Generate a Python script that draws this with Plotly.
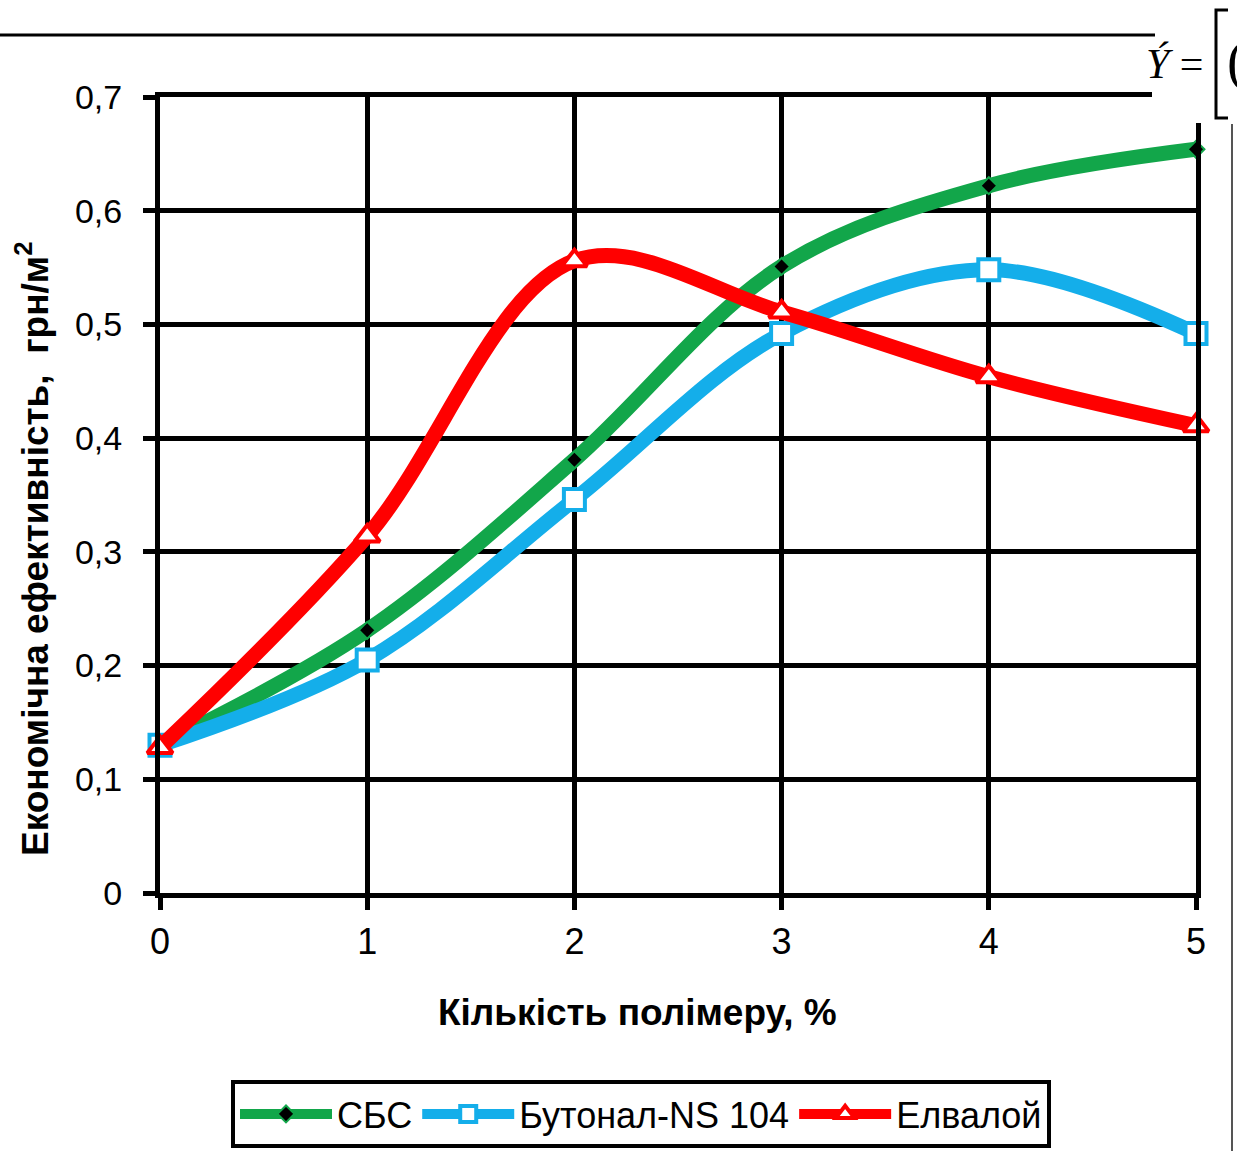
import plotly.graph_objects as go

# Кількість полімеру, %
polymer = [0, 1, 2, 3, 4, 5]

# Економічна ефективність, грн/м2
sbs = [0.130, 0.231, 0.381, 0.551, 0.622, 0.654]
butonal = [0.130, 0.205, 0.346, 0.492, 0.548, 0.492]
elvaloy = [0.128, 0.314, 0.556, 0.511, 0.454, 0.411]

y_ticks = [0, 0.1, 0.2, 0.3, 0.4, 0.5, 0.6, 0.7]
y_tick_text = ["0", "0,1", "0,2", "0,3", "0,4", "0,5", "0,6", "0,7"]

GREEN = "#12A64A"
BLUE = "#14AEEA"
RED = "#FF0000"

# plot area in pixels
L, R, T, B = 160, 1196, 97, 893
W_PX, H_PX = R - L, B - T


def px(x):
    return (x - L) / W_PX


def py(y):
    return (B - y) / H_PX


fig = go.Figure()

fig.add_trace(go.Scatter(
    x=polymer, y=sbs, name="СБС", mode="lines+markers",
    line=dict(color=GREEN, width=15, shape="spline", smoothing=1),
    marker=dict(symbol="diamond", size=13, color="black", line=dict(color=GREEN, width=2)),
    cliponaxis=False,
))
fig.add_trace(go.Scatter(
    x=polymer, y=butonal, name="Бутонал-NS 104", mode="lines+markers",
    line=dict(color=BLUE, width=15, shape="spline", smoothing=1),
    marker=dict(symbol="square", size=21, color="white", line=dict(color=BLUE, width=4)),
    cliponaxis=False,
))
fig.add_trace(go.Scatter(
    x=polymer, y=elvaloy, name="Елвалой", mode="lines+markers",
    line=dict(color=RED, width=15, shape="spline", smoothing=1),
    marker=dict(symbol="triangle-up", size=22, color="white", line=dict(color=RED, width=4)),
    cliponaxis=False,
))

font_main = "Liberation Sans, Arial, sans-serif"

fig.update_layout(
    width=1237, height=1151,
    margin=dict(l=L, r=1237 - R, t=T, b=1151 - B, autoexpand=False),
    paper_bgcolor="white", plot_bgcolor="white",
    font=dict(family=font_main, color="black", size=34),
    showlegend=True,
    legend=dict(
        orientation="h", x=px(641), xanchor="center", y=py(1080), yanchor="top",
        bordercolor="black", borderwidth=4, bgcolor="white",
        font=dict(size=36, family=font_main), itemwidth=92,
        itemsizing="trace", tracegroupgap=0,
    ),
    xaxis=dict(
        range=[0, 5], tickvals=polymer, ticktext=[str(v) for v in polymer],
        showgrid=True, gridcolor="black", gridwidth=5,
        showline=True, linecolor="black", linewidth=5, mirror=True,
        ticks="outside", ticklen=12, tickwidth=5, tickcolor="black",
        zeroline=False, ticklabelstandoff=1, tickfont=dict(size=36),
        automargin=False,
    ),
    yaxis=dict(
        range=[0, 0.7], tickvals=y_ticks, ticktext=y_tick_text,
        showgrid=True, gridcolor="black", gridwidth=5,
        showline=True, linecolor="black", linewidth=5, mirror=True,
        ticks="outside", ticklen=12, tickwidth=5, tickcolor="black",
        zeroline=False, ticklabelstandoff=14, tickfont=dict(size=34),
        automargin=False,
    ),
)

# axis titles
fig.add_annotation(xref="paper", yref="paper", x=px(637), y=py(1012),
                   xanchor="center", yanchor="middle", showarrow=False,
                   text="<b>Кількість полімеру, %</b>", font=dict(size=37))
fig.add_annotation(xref="paper", yref="paper", x=px(32), y=py(549),
                   xanchor="center", yanchor="middle", showarrow=False, textangle=-90,
                   text="<b>Економічна ефективність,  грн/м<sup>2</sup></b>", font=dict(size=37))

# Page elements around the chart: rule line, formula fragment and side rule
fig.add_shape(type="rect", xref="paper", yref="paper",
              x0=px(1152), x1=px(1237), y0=py(123), y1=py(0),
              fillcolor="white", line=dict(width=0), layer="above")
fig.add_shape(type="line", xref="paper", yref="paper",
              x0=px(0), x1=px(1155), y0=py(35), y1=py(35),
              line=dict(color="black", width=3), layer="above")
fig.add_shape(type="line", xref="paper", yref="paper",
              x0=px(1232), x1=px(1232), y0=py(1151), y1=py(124),
              line=dict(color="#555555", width=2), layer="above")
# bracket
fig.add_shape(type="path", xref="paper", yref="paper",
              path=(f"M {px(1228)},{py(10)} L {px(1216)},{py(10)} "
                    f"L {px(1216)},{py(118)} L {px(1228)},{py(118)}"),
              line=dict(color="black", width=3), layer="above")
fig.add_annotation(xref="paper", yref="paper",
                   x=px(1144), y=py(64), xanchor="left", yanchor="middle",
                   text="<i>Ý</i> =", showarrow=False,
                   font=dict(family="Liberation Serif, Times New Roman, serif", size=42, color="black"))
fig.add_annotation(xref="paper", yref="paper",
                   x=px(1225), y=py(62), xanchor="left", yanchor="middle",
                   text="(", showarrow=False,
                   font=dict(family="Liberation Serif, Times New Roman, serif", size=56, color="black"))

fig.write_html("out.html")
